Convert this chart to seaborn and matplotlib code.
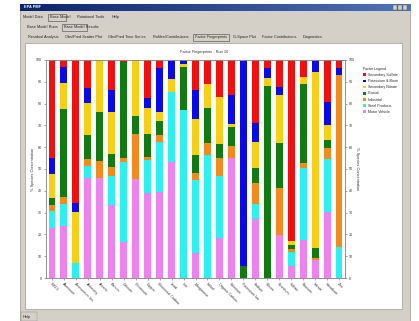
import numpy as np
import pandas as pd
import matplotlib
matplotlib.use("Agg")
import matplotlib.pyplot as plt
from matplotlib.patches import Rectangle, Patch
from matplotlib.colors import LinearSegmentedColormap
from matplotlib.transforms import Bbox
import seaborn as sns

# ---------------- data ----------------
species = [
    "PM2.5", "Aluminum", "Ammonium Ion", "Antimony", "Arsenic", "Barium",
    "Calcium", "Chromium", "Copper", "Elemental Carbon", "Lead", "Iron",
    "Manganese", "Nickel", "Organic Carbon", "Selenium", "Potassium Ion",
    "Sodium", "Silicon", "Strontium", "Sulfate", "Titanium", "Nitrate",
    "Vanadium", "Zinc",
]

# percent of each species attributed to each factor (stack order bottom -> top)
motor_vehicle = [23.1, 24.0, 0.0, 45.7, 45.7, 33.5, 16.7, 45.4, 38.8, 39.6, 53.4, 0.0,
                 11.3, 0.0, 18.5, 55.2, 0.0, 27.1, 0.0, 19.7, 5.5, 17.4, 8.3, 30.4, 0.0]
steel_products = [7.6, 9.8, 6.7, 5.7, 0.0, 13.4, 36.4, 0.0, 15.3, 22.6, 32.1, 77.1,
                  33.7, 56.4, 28.4, 0.0, 0.0, 6.7, 0.0, 0.0, 6.6, 33.2, 0.0, 24.2, 14.4]
industrial = [2.8, 3.5, 0.0, 3.2, 8.0, 4.2, 1.8, 20.5, 1.6, 3.4, 0.0, 0.0,
              3.0, 5.4, 8.0, 5.5, 0.0, 9.6, 0.0, 21.4, 1.0, 2.0, 1.0, 5.2, 78.7]
crustal = [3.4, 40.2, 0.0, 11.0, 22.6, 5.9, 44.3, 8.6, 10.4, 6.4, 0.0, 19.8,
           8.4, 16.0, 6.4, 8.5, 5.5, 6.9, 88.2, 20.7, 2.2, 36.2, 4.3, 3.5, 0.0]
secondary_nitrate = [10.7, 11.8, 23.7, 14.5, 23.7, 19.3, 0.0, 25.5, 12.0, 4.0, 5.8, 1.1,
                     16.5, 11.0, 21.9, 1.5, 0.0, 11.9, 3.4, 22.1, 1.7, 3.6, 81.0, 6.9, 0.0]
potassium_biomass = [7.3, 7.6, 3.9, 7.2, 0.0, 9.9, 0.0, 0.0, 4.3, 20.5, 8.7, 2.0,
                     13.3, 0.0, 0.0, 13.4, 94.5, 8.7, 4.6, 3.9, 0.0, 0.0, 5.4, 10.7, 3.1]
secondary_sulfate = [45.1, 3.1, 65.7, 12.7, 0.0, 13.8, 0.8, 0.0, 17.6, 3.5, 0.0, 0.0,
                     13.8, 11.2, 16.8, 15.9, 0.0, 29.1, 3.8, 12.2, 83.0, 7.6, 0.0, 19.1, 3.8]

factor_names = ["Motor Vehicle", "Steel Products", "Industrial", "Crustal",
                "Secondary Nitrate", "Potassium & Biomass", "Secondary Sulfate"]
factor_colors = ["#ee82ee", "#2ff0f0", "#f28a1e", "#117a11",
                 "#f8cf17", "#0a0ae6", "#f01010"]
y_ticks = list(range(0, 101, 10))

df = pd.DataFrame({
    "Species": species,
    "Motor Vehicle": motor_vehicle,
    "Steel Products": steel_products,
    "Industrial": industrial,
    "Crustal": crustal,
    "Secondary Nitrate": secondary_nitrate,
    "Potassium & Biomass": potassium_biomass,
    "Secondary Sulfate": secondary_sulfate,
})
cum = df[factor_names].cumsum(axis=1)

# ---------------- figure / window frame ----------------
W, H = 419, 321
def fx(x):
    return x / W
def fy(y):
    return 1 - y / H

sns.set_style("white")
plt.rcParams["font.family"] = ["Liberation Sans", "DejaVu Sans"]

fig = plt.figure(figsize=(W / 100, H / 100), dpi=100)
fig.patch.set_facecolor("white")

def frect(x0, y0, x1, y1, fc, ec="none", lw=0.4, z=0):
    fig.add_artist(Rectangle((fx(x0), fy(y1)), (x1 - x0) / W, (y1 - y0) / H,
                             transform=fig.transFigure, facecolor=fc,
                             edgecolor=ec, linewidth=lw, zorder=z))

# window body
frect(20, 4, 410, 321, "#d4d0c8", "#9a968e", 0.5)

# title bar
tb = fig.add_axes([fx(20), fy(11), (410 - 20) / W, 7 / H])
tb.imshow(np.linspace(0, 1, 256)[None, :], aspect="auto",
          cmap=LinearSegmentedColormap.from_list("tb", ["#0a246a", "#4f72b8"]))
tb.axis("off")
fig.text(fx(24), fy(7.5), "EPA PMF", color="white", fontsize=2.8,
         fontweight="bold", va="center")
for bx in (395, 400, 405):
    frect(bx - 2, 5, bx + 2, 10, "#d4d0c8", "#555555", 0.3, z=3)

# menu row
for x, label in [(23, "Model Data"), (50, "Base Model"), (77, "Rotational Tools"), (112, "Help")]:
    fig.text(fx(x), fy(17), label, fontsize=2.8, va="center")
frect(48, 13.5, 66, 20.5, "none", "#444444", 0.4, z=3)

# sub tabs
for x, label in [(27, "Base Model Runs"), (64, "Base Model Results")]:
    fig.text(fx(x), fy(27), label, fontsize=2.8, va="center")
frect(62, 23.5, 87, 30.5, "none", "#444444", 0.4, z=3)

# result tabs
for x, label in [(28, "Residual Analysis"), (65, "Obs/Pred Scatter Plot"),
                 (108, "Obs/Pred Time Series"), (153, "Profiles/Contributions"),
                 (195, "Factor Fingerprints"), (233, "G-Space Plot"),
                 (262, "Factor Contributions"), (303, "Diagnostics")]:
    fig.text(fx(x), fy(37), label, fontsize=2.8, va="center")
frect(193, 33.5, 229, 40.5, "none", "#444444", 0.4, z=3)

# white plotting panel
frect(25, 43, 402, 309, "white", "#a09c94", 0.5, z=1)

# status bar
fig.text(fx(23), fy(317), "Help", fontsize=2.8, va="center")
frect(21, 312, 37, 321, "none", "#888888", 0.3, z=3)

# ---------------- chart ----------------
ax = fig.add_axes([fx(46), fy(278), (345 - 46) / W, (278 - 60) / H])
ax.set_zorder(5)
ax.set_facecolor("white")

# stacked bars: draw cumulative totals from the top layer down
for name, color in reversed(list(zip(factor_names, factor_colors))):
    sns.barplot(x=df["Species"], y=cum[name], order=species, color=color,
                saturation=1, width=0.58, edgecolor="none", linewidth=0, ax=ax)

ax.set_ylim(0, 100)
ax.set_xlim(-0.5, len(species) - 0.5)
ax.set_yticks(y_ticks)
ax.set_yticklabels([str(t) for t in y_ticks], fontsize=2.6, color="#333333")
ax.set_xticks(range(len(species)))
ax.set_xticklabels(species, rotation=-45, ha="left", rotation_mode="anchor",
                   fontsize=2.6, color="#333333")
ax.tick_params(axis="both", length=1.5, width=0.4, pad=1.2, color="#666666",
               left=True, bottom=True)
ax.set_xlabel("")
ax.set_ylabel("% Species Concentration", fontsize=2.8, color="#333333")
ax.yaxis.set_label_coords((33 - 46) / 299, 0.5)
ax.yaxis.label.set_va("center")
for s in ax.spines.values():
    s.set_visible(True)
    s.set_linewidth(0.5)
    s.set_color("#8a8a8a")

ax2 = ax.twinx()
ax2.set_ylim(0, 100)
ax2.set_yticks(y_ticks)
ax2.set_yticklabels([str(t) for t in y_ticks], fontsize=2.6, color="#333333")
ax2.tick_params(axis="y", length=1.5, width=0.4, pad=1.2, color="#666666", right=True)
ax2.set_ylabel("% Species Concentration", fontsize=2.8, color="#333333", rotation=270)
ax2.yaxis.set_label_coords((357 - 46) / 299, 0.5)
ax2.yaxis.label.set_va("center")
for s in ax2.spines.values():
    s.set_linewidth(0.5)
    s.set_color("#8a8a8a")

ax.set_title("Factor Fingerprints - Run 10", fontsize=2.8, color="#333333",
             x=(204 - 46) / 299, pad=5)

# factor legend, listed top of stack first
handles = [Patch(facecolor=c, edgecolor="none") for c in reversed(factor_colors)]
leg = fig.legend(handles, list(reversed(factor_names)), loc="upper left",
                 bbox_to_anchor=(fx(361), fy(65)), fontsize=2.6,
                 title="Factor Legend", title_fontsize=2.6, frameon=False,
                 handlelength=0.8, handleheight=0.8, handletextpad=0.5,
                 labelspacing=0.6, borderpad=0, alignment="left")
leg.set_zorder(6)
clip = Bbox([[fx(300), fy(309)], [fx(398), fy(43)]])
for t in leg.get_texts():
    t.set_clip_box(fig.transFigure.transform_bbox(clip))
    t.set_clip_on(True)

fig.savefig("out.png", dpi=100)
